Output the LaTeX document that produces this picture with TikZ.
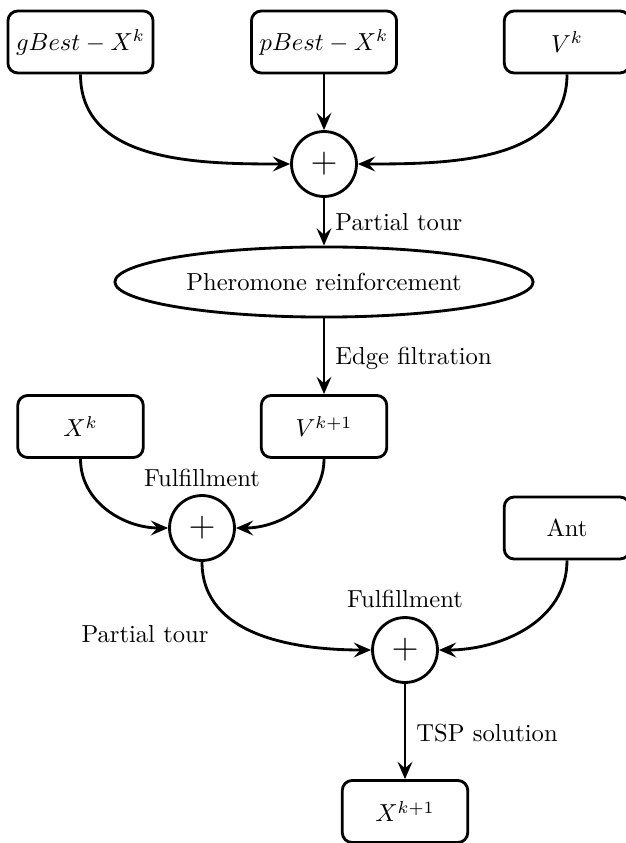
\documentclass[tikz,border=0pt]{standalone}
\usetikzlibrary{arrows.meta,shapes.geometric}
\begin{document}
\begin{tikzpicture}[x=0.4065pt,y=-0.4065pt,
  line width=1.15pt,
  box/.style={draw,rounded corners=4pt,minimum width=59pt,minimum height=25.2pt,inner sep=0pt},
  wbox/.style={box,minimum width=51pt},
  plus/.style={draw,circle,minimum size=26.4pt,inner sep=0pt,font=\Large},
  oval/.style={draw,ellipse,minimum width=170pt,minimum height=28.5pt,inner sep=0pt},
  lbl/.style={inner sep=0pt},
  arr/.style={-{Stealth[length=7pt,width=6pt,inset=2.6pt]}}]
\useasboundingbox (0,0) rectangle (625,843);
% nodes
\node[box] (gb) at (80.5,42) {$gBest - X^k$};
\node[box] (pb) at (324,42) {$pBest - X^k$};
\node[wbox] (vk) at (567,42) {$V^k$};
\node[plus] (p1) at (324,164) {$+$};
\node[oval] (ph) at (324,282) {Pheromone reinforcement};
\node[wbox] (vk1) at (324,426.5) {$V^{k+1}$};
\node[wbox] (xk) at (80.5,426.5) {$X^k$};
\node[plus] (p2) at (202,528) {$+$};
\node[wbox] (ant) at (567,528) {Ant};
\node[plus] (p3) at (405,650) {$+$};
\node[wbox] (xk1) at (405,811.5) {$X^{k+1}$};
% labels
\node[lbl,anchor=west] (l1) at (334,222) {Partial tour};
\node[lbl,anchor=west] (l2) at (334,358) {Edge filtration};
\node[lbl] (l3) at (202,478) {Fulfillment};
\node[lbl] (l4) at (145,634) {Partial tour};
\node[lbl] (l5) at (405,599) {Fulfillment};
\node[lbl,anchor=west] (l6) at (415,733) {TSP solution};
% connectors
\draw[arr] (gb.south) to[out=-90,in=180] (p1.west);
\draw[arr] (pb.south) -- (p1.north);
\draw[arr] (vk.south) to[out=-90,in=0] (p1.east);
\draw[arr] (p1.south) -- (ph.north);
\draw[arr] (ph.south) -- (vk1.north);
\draw[arr] (xk.south) to[out=-90,in=180] (p2.west);
\draw[arr] (vk1.south) to[out=-90,in=0] (p2.east);
\draw[arr] (p2.south) to[out=-90,in=180] (p3.west);
\draw[arr] (ant.south) to[out=-90,in=0] (p3.east);
\draw[arr] (p3.south) -- (xk1.north);
\end{tikzpicture}
\end{document}
